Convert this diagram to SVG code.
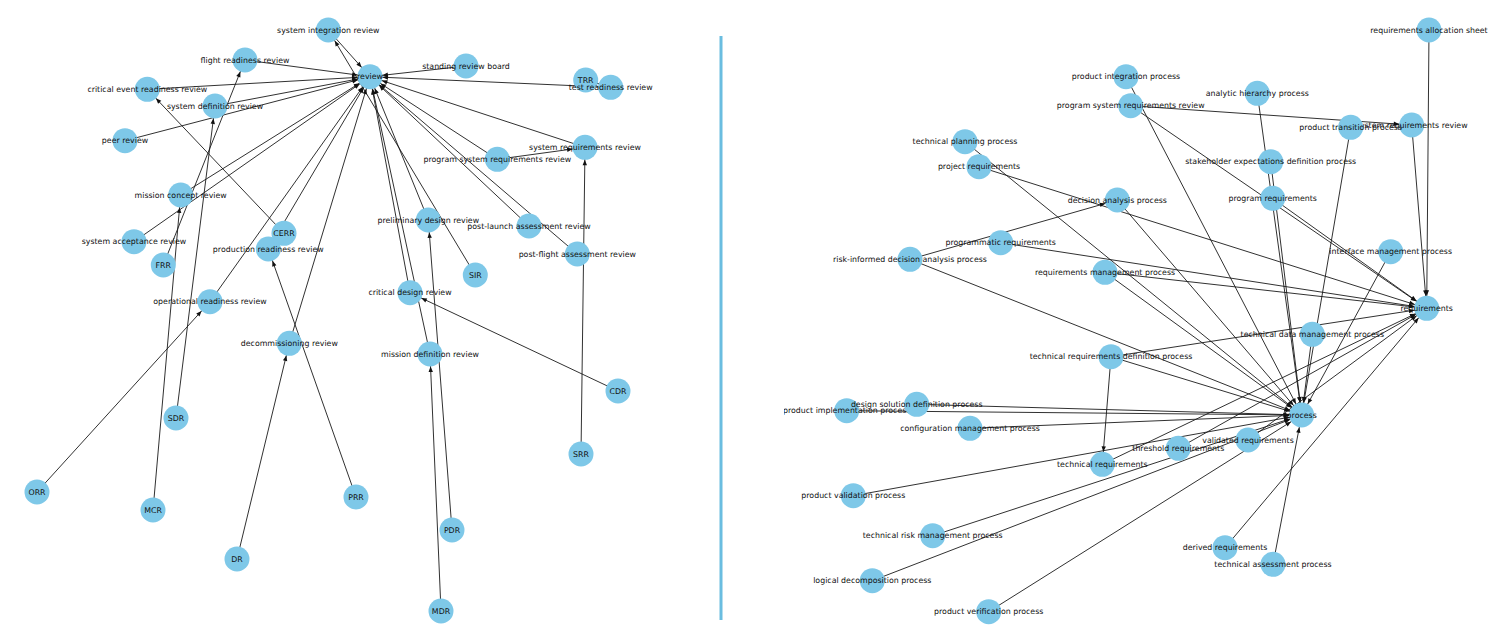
<svg xmlns="http://www.w3.org/2000/svg" width="1499" height="643" viewBox="0 0 1499 643">
<style>
.e{stroke:#1a1a1a;stroke-width:0.9;fill:none;marker-end:url(#ah)}
.n circle{fill:#7ec8e8}
.n text{font-family:"DejaVu Sans",sans-serif;font-size:7.85px;fill:#111;text-anchor:middle;dominant-baseline:central}
</style>
<defs>
<marker id="ah" markerUnits="userSpaceOnUse" orient="auto" refX="0" refY="0" markerWidth="30" markerHeight="10" overflow="visible">
<path d="M-12.5,0 L-18,-2.2 L-18,2.2 Z" fill="#111"/>
</marker>
<clipPath id="rc"><rect x="784" y="0" width="715" height="643"/></clipPath>
</defs>
<rect width="1499" height="643" fill="#fff"/>
<line x1="721" y1="36" x2="721" y2="620" stroke="#6abde0" stroke-width="3"/>

<g id="left-graph">
<g id="left-edges">
<line class="e" x1="328.3" y1="30" x2="370" y2="76.7"/>
<line class="e" x1="475.3" y1="275" x2="328.3" y2="30"/>
<line class="e" x1="245" y1="60" x2="370" y2="76.7"/>
<line class="e" x1="147.3" y1="89.3" x2="370" y2="76.7"/>
<line class="e" x1="215" y1="106" x2="370" y2="76.7"/>
<line class="e" x1="125" y1="140.7" x2="370" y2="76.7"/>
<line class="e" x1="180.7" y1="195" x2="370" y2="76.7"/>
<line class="e" x1="134" y1="241.7" x2="370" y2="76.7"/>
<line class="e" x1="466" y1="66" x2="370" y2="76.7"/>
<line class="e" x1="610.7" y1="87.3" x2="370" y2="76.7"/>
<line class="e" x1="585.7" y1="80" x2="610.7" y2="87.3"/>
<line class="e" x1="585" y1="147.3" x2="370" y2="76.7"/>
<line class="e" x1="497.3" y1="159.3" x2="370" y2="76.7"/>
<line class="e" x1="497.3" y1="159.3" x2="585" y2="147.3"/>
<line class="e" x1="529" y1="226" x2="370" y2="76.7"/>
<line class="e" x1="577.3" y1="254" x2="370" y2="76.7"/>
<line class="e" x1="428.3" y1="220" x2="370" y2="76.7"/>
<line class="e" x1="410" y1="292.7" x2="370" y2="76.7"/>
<line class="e" x1="430" y1="354" x2="370" y2="76.7"/>
<line class="e" x1="268.3" y1="249" x2="370" y2="76.7"/>
<line class="e" x1="210" y1="301.7" x2="370" y2="76.7"/>
<line class="e" x1="289.3" y1="343.3" x2="370" y2="76.7"/>
<line class="e" x1="284" y1="233.3" x2="147.3" y2="89.3"/>
<line class="e" x1="163.3" y1="265" x2="245" y2="60"/>
<line class="e" x1="153" y1="510" x2="180.7" y2="195"/>
<line class="e" x1="176" y1="418" x2="215" y2="106"/>
<line class="e" x1="37" y1="492" x2="210" y2="301.7"/>
<line class="e" x1="237" y1="559" x2="289.3" y2="343.3"/>
<line class="e" x1="356" y1="497" x2="268.3" y2="249"/>
<line class="e" x1="618" y1="391" x2="410" y2="292.7"/>
<line class="e" x1="581" y1="454" x2="585" y2="147.3"/>
<line class="e" x1="452" y1="530" x2="428.3" y2="220"/>
<line class="e" x1="441" y1="611" x2="430" y2="354"/>
</g>
<g id="left-nodes">
<g class="n" id="n-review"><circle cx="370" cy="76.7" r="12.5"/><text x="370" y="76.7">review</text></g>
<g class="n" id="n-system-integration-review"><circle cx="328.3" cy="30" r="12.5"/><text x="328.3" y="30">system integration review</text></g>
<g class="n" id="n-flight-readiness-review"><circle cx="245" cy="60" r="12.5"/><text x="245" y="60">flight readiness review</text></g>
<g class="n" id="n-critical-event-readiness-review"><circle cx="147.3" cy="89.3" r="12.5"/><text x="147.3" y="89.3">critical event readiness review</text></g>
<g class="n" id="n-system-definition-review"><circle cx="215" cy="106" r="12.5"/><text x="215" y="106">system definition review</text></g>
<g class="n" id="n-peer-review"><circle cx="125" cy="140.7" r="12.5"/><text x="125" y="140.7">peer review</text></g>
<g class="n" id="n-mission-concept-review"><circle cx="180.7" cy="195" r="12.5"/><text x="180.7" y="195">mission concept review</text></g>
<g class="n" id="n-standing-review-board"><circle cx="466" cy="66" r="12.5"/><text x="466" y="66">standing review board</text></g>
<g class="n" id="n-TRR"><circle cx="585.7" cy="80" r="12.5"/><text x="585.7" y="80">TRR</text></g>
<g class="n" id="n-test-readiness-review"><circle cx="610.7" cy="87.3" r="12.5"/><text x="610.7" y="87.3">test readiness review</text></g>
<g class="n" id="n-system-requirements-review-l"><circle cx="585" cy="147.3" r="12.5"/><text x="585" y="147.3">system requirements review</text></g>
<g class="n" id="n-program-system-requirements-review-l"><circle cx="497.3" cy="159.3" r="12.5"/><text x="497.3" y="159.3">program system requirements review</text></g>
<g class="n" id="n-system-acceptance-review"><circle cx="134" cy="241.7" r="12.5"/><text x="134" y="241.7">system acceptance review</text></g>
<g class="n" id="n-FRR"><circle cx="163.3" cy="265" r="12.5"/><text x="163.3" y="265">FRR</text></g>
<g class="n" id="n-CERR"><circle cx="284" cy="233.3" r="12.5"/><text x="284" y="233.3">CERR</text></g>
<g class="n" id="n-production-readiness-review"><circle cx="268.3" cy="249" r="12.5"/><text x="268.3" y="249">production readiness review</text></g>
<g class="n" id="n-operational-readiness-review"><circle cx="210" cy="301.7" r="12.5"/><text x="210" y="301.7">operational readiness review</text></g>
<g class="n" id="n-decommissioning-review"><circle cx="289.3" cy="343.3" r="12.5"/><text x="289.3" y="343.3">decommissioning review</text></g>
<g class="n" id="n-preliminary-design-review"><circle cx="428.3" cy="220" r="12.5"/><text x="428.3" y="220">preliminary design review</text></g>
<g class="n" id="n-post-launch-assessment-review"><circle cx="529" cy="226" r="12.5"/><text x="529" y="226">post-launch assessment review</text></g>
<g class="n" id="n-post-flight-assessment-review"><circle cx="577.3" cy="254" r="12.5"/><text x="577.3" y="254">post-flight assessment review</text></g>
<g class="n" id="n-SIR"><circle cx="475.3" cy="275" r="12.5"/><text x="475.3" y="275">SIR</text></g>
<g class="n" id="n-critical-design-review"><circle cx="410" cy="292.7" r="12.5"/><text x="410" y="292.7">critical design review</text></g>
<g class="n" id="n-mission-definition-review"><circle cx="430" cy="354" r="12.5"/><text x="430" y="354">mission definition review</text></g>
<g class="n" id="n-CDR"><circle cx="618" cy="391" r="12.5"/><text x="618" y="391">CDR</text></g>
<g class="n" id="n-SDR"><circle cx="176" cy="418" r="12.5"/><text x="176" y="418">SDR</text></g>
<g class="n" id="n-SRR"><circle cx="581" cy="454" r="12.5"/><text x="581" y="454">SRR</text></g>
<g class="n" id="n-ORR"><circle cx="37" cy="492" r="12.5"/><text x="37" y="492">ORR</text></g>
<g class="n" id="n-PRR"><circle cx="356" cy="497" r="12.5"/><text x="356" y="497">PRR</text></g>
<g class="n" id="n-MCR"><circle cx="153" cy="510" r="12.5"/><text x="153" y="510">MCR</text></g>
<g class="n" id="n-PDR"><circle cx="452" cy="530" r="12.5"/><text x="452" y="530">PDR</text></g>
<g class="n" id="n-DR"><circle cx="237" cy="559" r="12.5"/><text x="237" y="559">DR</text></g>
<g class="n" id="n-MDR"><circle cx="441" cy="611" r="12.5"/><text x="441" y="611">MDR</text></g>
</g>
</g>

<g id="right-graph" clip-path="url(#rc)">
<g id="right-edges">
<line class="e" x1="1126" y1="76.7" x2="1301.7" y2="415"/>
<line class="e" x1="1257.3" y1="93.3" x2="1301.7" y2="415"/>
<line class="e" x1="1350.7" y1="127.3" x2="1301.7" y2="415"/>
<line class="e" x1="965" y1="141.7" x2="1301.7" y2="415"/>
<line class="e" x1="1270.7" y1="161.7" x2="1301.7" y2="415"/>
<line class="e" x1="1117.3" y1="200" x2="1301.7" y2="415"/>
<line class="e" x1="910" y1="259.3" x2="1301.7" y2="415"/>
<line class="e" x1="1390.7" y1="251.7" x2="1301.7" y2="415"/>
<line class="e" x1="1105" y1="272.3" x2="1301.7" y2="415"/>
<line class="e" x1="1312.3" y1="334.3" x2="1301.7" y2="415"/>
<line class="e" x1="1111" y1="356.7" x2="1301.7" y2="415"/>
<line class="e" x1="916.7" y1="404.3" x2="1301.7" y2="415"/>
<line class="e" x1="846.7" y1="410.7" x2="1301.7" y2="415"/>
<line class="e" x1="970" y1="428.3" x2="1301.7" y2="415"/>
<line class="e" x1="853.3" y1="495.7" x2="1301.7" y2="415"/>
<line class="e" x1="932.7" y1="535.7" x2="1301.7" y2="415"/>
<line class="e" x1="1273" y1="564.3" x2="1301.7" y2="415"/>
<line class="e" x1="872.3" y1="580.7" x2="1301.7" y2="415"/>
<line class="e" x1="988.7" y1="611.7" x2="1301.7" y2="415"/>
<line class="e" x1="1429" y1="30" x2="1426.7" y2="308.3"/>
<line class="e" x1="1130.7" y1="105.7" x2="1426.7" y2="308.3"/>
<line class="e" x1="1411.7" y1="125" x2="1426.7" y2="308.3"/>
<line class="e" x1="979" y1="166.7" x2="1426.7" y2="308.3"/>
<line class="e" x1="1272.7" y1="198.3" x2="1426.7" y2="308.3"/>
<line class="e" x1="1000.7" y1="242.7" x2="1426.7" y2="308.3"/>
<line class="e" x1="1105" y1="272.3" x2="1426.7" y2="308.3"/>
<line class="e" x1="1111" y1="356.7" x2="1426.7" y2="308.3"/>
<line class="e" x1="1178.3" y1="448.3" x2="1426.7" y2="308.3"/>
<line class="e" x1="1248" y1="440" x2="1426.7" y2="308.3"/>
<line class="e" x1="1102.3" y1="464.3" x2="1426.7" y2="308.3"/>
<line class="e" x1="1225" y1="547.7" x2="1426.7" y2="308.3"/>
<line class="e" x1="1130.7" y1="105.7" x2="1411.7" y2="125"/>
<line class="e" x1="910" y1="259.3" x2="1117.3" y2="200"/>
<line class="e" x1="1111" y1="356.7" x2="1102.3" y2="464.3"/>
</g>
<g id="right-nodes">
<g class="n" id="n-process"><circle cx="1301.7" cy="415" r="12.5"/><text x="1301.7" y="415">process</text></g>
<g class="n" id="n-requirements"><circle cx="1426.7" cy="308.3" r="12.5"/><text x="1426.7" y="308.3">requirements</text></g>
<g class="n" id="n-requirements-allocation-sheet"><circle cx="1429" cy="30" r="12.5"/><text x="1429" y="30">requirements allocation sheet</text></g>
<g class="n" id="n-product-integration-process"><circle cx="1126" cy="76.7" r="12.5"/><text x="1126" y="76.7">product integration process</text></g>
<g class="n" id="n-program-system-requirements-review-r"><circle cx="1130.7" cy="105.7" r="12.5"/><text x="1130.7" y="105.7">program system requirements review</text></g>
<g class="n" id="n-analytic-hierarchy-process"><circle cx="1257.3" cy="93.3" r="12.5"/><text x="1257.3" y="93.3">analytic hierarchy process</text></g>
<g class="n" id="n-system-requirements-review-r"><circle cx="1411.7" cy="125" r="12.5"/><text x="1411.7" y="125">system requirements review</text></g>
<g class="n" id="n-product-transition-process"><circle cx="1350.7" cy="127.3" r="12.5"/><text x="1350.7" y="127.3">product transition process</text></g>
<g class="n" id="n-technical-planning-process"><circle cx="965" cy="141.7" r="12.5"/><text x="965" y="141.7">technical planning process</text></g>
<g class="n" id="n-project-requirements"><circle cx="979" cy="166.7" r="12.5"/><text x="979" y="166.7">project requirements</text></g>
<g class="n" id="n-stakeholder-expectations-definition-process"><circle cx="1270.7" cy="161.7" r="12.5"/><text x="1270.7" y="161.7">stakeholder expectations definition process</text></g>
<g class="n" id="n-decision-analysis-process"><circle cx="1117.3" cy="200" r="12.5"/><text x="1117.3" y="200">decision analysis process</text></g>
<g class="n" id="n-program-requirements"><circle cx="1272.7" cy="198.3" r="12.5"/><text x="1272.7" y="198.3">program requirements</text></g>
<g class="n" id="n-programmatic-requirements"><circle cx="1000.7" cy="242.7" r="12.5"/><text x="1000.7" y="242.7">programmatic requirements</text></g>
<g class="n" id="n-risk-informed-decision-analysis-process"><circle cx="910" cy="259.3" r="12.5"/><text x="910" y="259.3">risk-informed decision analysis process</text></g>
<g class="n" id="n-interface-management-process"><circle cx="1390.7" cy="251.7" r="12.5"/><text x="1390.7" y="251.7">interface management process</text></g>
<g class="n" id="n-requirements-management-process"><circle cx="1105" cy="272.3" r="12.5"/><text x="1105" y="272.3">requirements management process</text></g>
<g class="n" id="n-technical-data-management-process"><circle cx="1312.3" cy="334.3" r="12.5"/><text x="1312.3" y="334.3">technical data management process</text></g>
<g class="n" id="n-technical-requirements-definition-process"><circle cx="1111" cy="356.7" r="12.5"/><text x="1111" y="356.7">technical requirements definition process</text></g>
<g class="n" id="n-product-implementation-process"><circle cx="846.7" cy="410.7" r="12.5"/><text x="846.7" y="410.7">product implementation process</text></g>
<g class="n" id="n-design-solution-definition-process"><circle cx="916.7" cy="404.3" r="12.5"/><text x="916.7" y="404.3">design solution definition process</text></g>
<g class="n" id="n-configuration-management-process"><circle cx="970" cy="428.3" r="12.5"/><text x="970" y="428.3">configuration management process</text></g>
<g class="n" id="n-threshold-requirements"><circle cx="1178.3" cy="448.3" r="12.5"/><text x="1178.3" y="448.3">threshold requirements</text></g>
<g class="n" id="n-validated-requirements"><circle cx="1248" cy="440" r="12.5"/><text x="1248" y="440">validated requirements</text></g>
<g class="n" id="n-technical-requirements"><circle cx="1102.3" cy="464.3" r="12.5"/><text x="1102.3" y="464.3">technical requirements</text></g>
<g class="n" id="n-product-validation-process"><circle cx="853.3" cy="495.7" r="12.5"/><text x="853.3" y="495.7">product validation process</text></g>
<g class="n" id="n-technical-risk-management-process"><circle cx="932.7" cy="535.7" r="12.5"/><text x="932.7" y="535.7">technical risk management process</text></g>
<g class="n" id="n-derived-requirements"><circle cx="1225" cy="547.7" r="12.5"/><text x="1225" y="547.7">derived requirements</text></g>
<g class="n" id="n-technical-assessment-process"><circle cx="1273" cy="564.3" r="12.5"/><text x="1273" y="564.3">technical assessment process</text></g>
<g class="n" id="n-logical-decomposition-process"><circle cx="872.3" cy="580.7" r="12.5"/><text x="872.3" y="580.7">logical decomposition process</text></g>
<g class="n" id="n-product-verification-process"><circle cx="988.7" cy="611.7" r="12.5"/><text x="988.7" y="611.7">product verification process</text></g>
</g>
</g>
</svg>
